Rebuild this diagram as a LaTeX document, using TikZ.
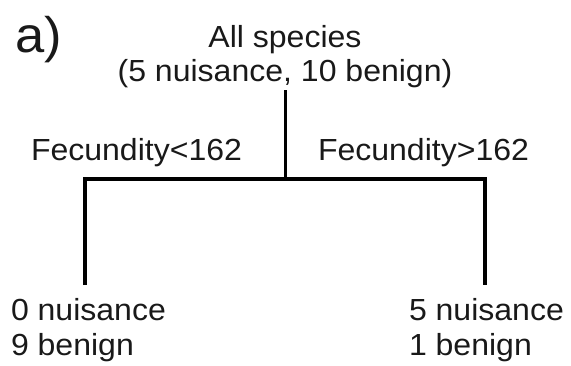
\documentclass[tikz,border=0pt]{standalone}
\usepackage{fontspec}
\setmainfont{Liberation Sans}[FakeStretch=1.05]
\begin{document}
\begin{tikzpicture}[x=1pt,y=-1pt,
  lbl/.style={inner sep=0pt, outer sep=0pt, font=\fontsize{30.5}{35}\selectfont, align=left, text=black!90},
  branch/.style={line width=4pt, line join=miter},
  stem/.style={line width=3pt}]
\useasboundingbox (0,0) rectangle (571,365);
\node[anchor=base west, inner sep=0pt, font=\fontsize{50}{60}\selectfont, text=black!90] (tag) at (15,52) {a)};
\node[lbl, align=center, font=\fontsize{30.5}{34}\selectfont, anchor=north] (root) at (285,25) {All species\\(5 nuisance, 10 benign)};
\node[lbl, anchor=base west] (condL) at (31,160) {Fecundity<162};
\node[lbl, anchor=base west] (condR) at (318,160) {Fecundity>162};
\coordinate (split) at (285,179);
\coordinate (lb) at (85,179);
\coordinate (rb) at (485,179);
\node[lbl, anchor=north west] (leafL) at (11,298) {0 nuisance\\9 benign};
\node[lbl, anchor=north west] (leafR) at (409,298) {5 nuisance\\1 benign};
\draw[stem] ([yshift=-3pt]root.south) -- (split);
\draw[branch] ([yshift=13pt]leafL.north -| lb) -- (lb) -- (rb) -- ([yshift=13pt]leafR.north -| rb);
\end{tikzpicture}
\end{document}
